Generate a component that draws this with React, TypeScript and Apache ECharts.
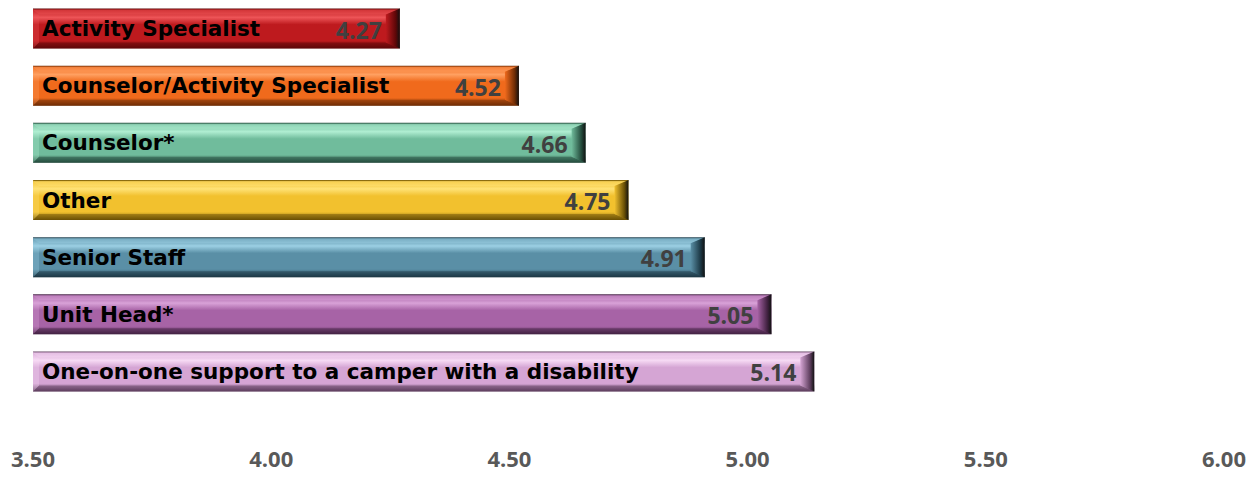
import React, { useEffect, useRef } from "react";
import * as echarts from "echarts";

const categories = [
  "Activity Specialist",
  "Counselor/Activity Specialist",
  "Counselor*",
  "Other",
  "Senior Staff",
  "Unit Head*",
  "One-on-one support to a camper with a disability",
];
const values = [4.27, 4.52, 4.66, 4.75, 4.91, 5.05, 5.14];
const axisMin = 3.5;
const axisMax = 6.0;
const axisStep = 0.5;

// [main, highlight, dark]
const palette = [
  ["#BE1A1E", "#EE5558", "#5E0708"],
  ["#F06A1C", "#FFA061", "#6E2C05"],
  ["#70BC9C", "#B0EED2", "#234A3B"],
  ["#F2C12E", "#FFE277", "#6A5005"],
  ["#5A8FA6", "#9CD0E4", "#1C3845"],
  ["#A763A6", "#D9A2D8", "#422242"],
  ["#D5A5D4", "#F7DBF5", "#5E3E5E"],
];

const FONT = "'Open Sans', 'Noto Sans', sans-serif";
const CAT_FONT = "'DejaVu Sans', 'Open Sans', sans-serif";

export default function App() {
  const ref = useRef<HTMLDivElement>(null);
  useEffect(() => {
    document.body.style.margin = "0";
    if (!ref.current) return;
    const chart = echarts.init(ref.current, null, { renderer: "svg" });
    const data = values.map((v, i) => [v, i]);
    chart.setOption({
      animation: false,
      grid: { left: 33, right: 32, top: 0, height: 400, containLabel: false },
      xAxis: {
        type: "value",
        min: axisMin,
        max: axisMax,
        interval: axisStep,
        axisLine: { show: false },
        axisTick: { show: false },
        splitLine: { show: false },
        axisLabel: {
          margin: 47,
          color: "#595959",
          fontWeight: "bold",
          fontSize: 22,
          fontFamily: FONT,
          formatter: (v: number) => v.toFixed(2),
        },
      },
      yAxis: {
        type: "category",
        inverse: true,
        data: categories,
        show: false,
      },
      series: [
        {
          type: "custom",
          encode: { x: 0, y: 1 },
          data,
          renderItem: (params: any, api: any) => {
            const v = api.value(0);
            const idx = api.value(1);
            const s = api.coord([axisMin, idx]);
            const e = api.coord([v, idx]);
            const h = 40;
            const x0 = s[0];
            const x1 = e[0];
            const yc = e[1];
            const y0 = yc - h / 2;
            const y1 = yc + h / 2;
            const [main, hi, dark] = palette[idx];
            const b = 6;
            const br = 14;
            const vgrad = new echarts.graphic.LinearGradient(0, 0, 0, 1, [
              { offset: 0, color: dark },
              { offset: 0.05, color: main },
              { offset: 0.22, color: hi },
              { offset: 0.4, color: main },
              { offset: 0.8, color: main },
              { offset: 1, color: dark },
            ]);
            return {
              type: "group",
              children: [
                {
                  type: "rect",
                  shape: { x: x0, y: y0, width: x1 - x0, height: h },
                  style: { fill: vgrad },
                },
                {
                  type: "polygon",
                  shape: { points: [[x0, y0 + 1], [x1, y0 + 1], [x1 - br, y0 + b], [x0 + b, y0 + b]] },
                  style: { fill: hi, opacity: 0.5 },
                },
                {
                  type: "polygon",
                  shape: { points: [[x0, y1], [x1, y1], [x1 - br, y1 - b], [x0 + b, y1 - b]] },
                  style: { fill: dark, opacity: 0.45 },
                },
                {
                  type: "polygon",
                  shape: { points: [[x0, y0], [x0 + b, y0 + b], [x0 + b, y1 - b], [x0, y1]] },
                  style: { fill: hi, opacity: 0.3 },
                },
                {
                  type: "polygon",
                  shape: { points: [[x1, y0], [x1, y1], [x1 - br, y1 - b], [x1 - br, y0 + b]] },
                  style: {
                    fill: new echarts.graphic.LinearGradient(0, 0, 1, 0, [
                      { offset: 0, color: main },
                      { offset: 0.7, color: dark },
                      { offset: 1, color: "#111111" },
                    ]),
                  },
                },
                {
                  type: "text",
                  style: {
                    text: categories[idx],
                    x: x0 + 9,
                    y: yc,
                    align: "left",
                    verticalAlign: "middle",
                    textAlign: "left",
                    textVerticalAlign: "middle",
                    fill: "#000000",
                    fontSize: 21.5,
                    fontWeight: "bold",
                    fontFamily: CAT_FONT,
                  },
                },
                {
                  type: "text",
                  style: {
                    text: values[idx].toFixed(2),
                    x: x1 - 18,
                    y: yc + 1,
                    align: "right",
                    verticalAlign: "middle",
                    textAlign: "right",
                    textVerticalAlign: "middle",
                    fill: "#404040",
                    fontSize: 23,
                    fontWeight: "bold",
                    fontFamily: FONT,
                  },
                },
              ],
            };
          },
        },
      ],
    });
    return () => chart.dispose();
  }, []);
  return <div ref={ref} style={{ width: 1256, height: 477 }} />;
}
